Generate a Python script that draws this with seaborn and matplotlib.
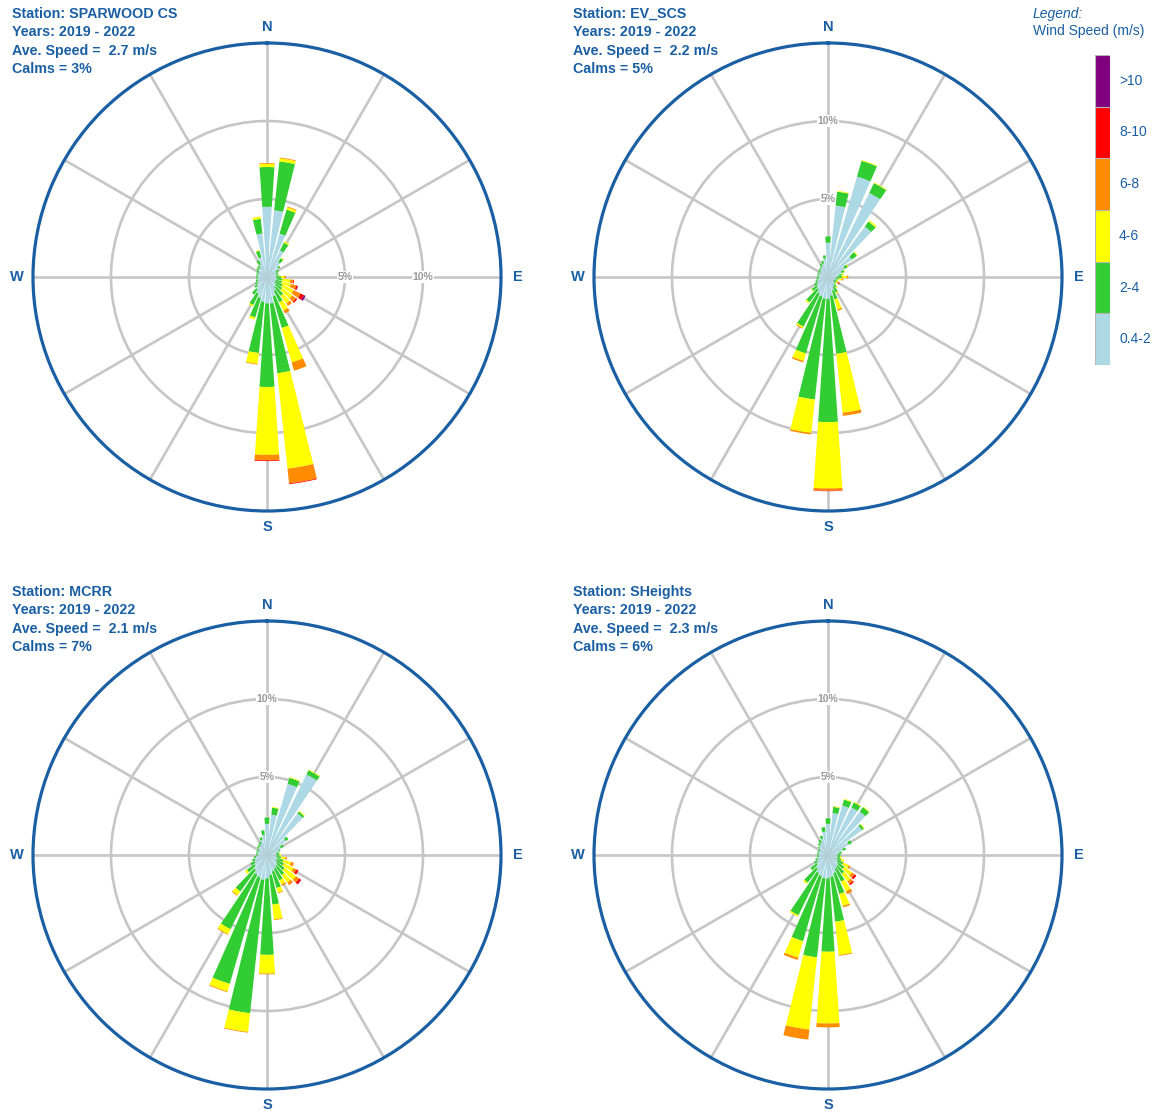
import numpy as np
import matplotlib.pyplot as plt
import seaborn as sns

W, H = 1156, 1112

directions = np.arange(0, 360, 10)
speed_classes = ["0.4-2", "2-4", "4-6", "6-8", "8-10", ">10"]
class_colors = ["#add8e6", "#32cd32", "#ffff00", "#ff8c00", "#ff0000", "#800080"]

stations = ["SPARWOOD CS", "EV_SCS", "MCRR", "SHeights"]
years = "2019 - 2022"
ave_speed = [2.7, 2.2, 2.1, 2.3]
calms = [3, 5, 7, 6]

# frequency (%) per 10 deg direction bin, 0..350, one list per speed class
spw_c1 = [4.5, 4.3, 2.9, 1.9, 1.2, 0.9, 0.7, 0.6, 0.6, 0.6, 0.6, 0.6, 0.6, 0.7, 0.8, 1.0, 1.3, 1.7,
          1.7, 1.6, 1.4, 1.2, 1.0, 0.8, 0.7, 0.6, 0.6, 0.6, 0.6, 0.6, 0.6, 0.7, 0.7, 0.9, 1.3, 2.8]
spw_c2 = [2.55, 3.15, 1.6, 0.55, 0.3, 0.15, 0.15, 0.15, 0.15, 0.3, 0.4, 0.4, 0.5, 0.5, 0.7, 0.8, 2.1, 4.5,
          5.35, 3.3, 1.3, 0.8, 0.4, 0.2, 0.15, 0.15, 0.1, 0.1, 0.1, 0.1, 0.15, 0.15, 0.2, 0.3, 0.45, 0.95]
spw_c3 = [0.2, 0.2, 0.15, 0.1, 0.05, 0, 0, 0, 0.05, 0.2, 0.5, 0.6, 0.8, 0.8, 0.6, 0.6, 2.3, 6.15,
          4.35, 0.7, 0.15, 0.1, 0, 0, 0, 0, 0, 0, 0, 0, 0, 0, 0, 0, 0.05, 0.15]
spw_c4 = [0.05, 0.05, 0.05, 0, 0, 0, 0, 0, 0, 0.1, 0.2, 0.35, 0.5, 0.3, 0.2, 0.2, 0.55, 0.95,
          0.35, 0.05, 0, 0, 0, 0, 0, 0, 0, 0, 0, 0, 0, 0, 0, 0, 0, 0]
spw_c5 = [0, 0, 0, 0, 0, 0, 0, 0, 0, 0, 0.05, 0.1, 0.25, 0.1, 0, 0, 0, 0.05,
          0.05, 0, 0, 0, 0, 0, 0, 0, 0, 0, 0, 0, 0, 0, 0, 0, 0, 0]
spw_c6 = [0, 0, 0, 0, 0, 0, 0, 0, 0, 0, 0, 0.03, 0.1, 0, 0, 0, 0, 0,
          0, 0, 0, 0, 0, 0, 0, 0, 0, 0, 0, 0, 0, 0, 0, 0, 0, 0]

ev_c1 = [2.2, 4.6, 6.7, 6.0, 4.0, 1.9, 1.2, 0.9, 0.7, 0.6, 0.5, 0.5, 0.4, 0.5, 0.6, 0.7, 0.9, 1.2,
         1.4, 1.4, 1.3, 1.2, 1.0, 0.9, 0.8, 0.7, 0.6, 0.6, 0.6, 0.6, 0.6, 0.6, 0.7, 0.8, 0.9, 1.2]
ev_c2 = [0.4, 0.9, 1.05, 0.7, 0.4, 0.4, 0.2, 0.2, 0.2, 0.3, 0.2, 0.1, 0.2, 0.1, 0.2, 0.4, 0.6, 3.75,
         7.9, 6.5, 3.8, 2.35, 1.0, 0.4, 0.2, 0.15, 0.15, 0.1, 0.1, 0.1, 0.1, 0.15, 0.1, 0.15, 0.2, 0.2]
ev_c3 = [0, 0.05, 0.05, 0.05, 0.1, 0.05, 0.05, 0.05, 0.1, 0.3, 0.2, 0.1, 0.1, 0.05, 0.1, 0.1, 0.65, 3.8,
         4.25, 2.15, 0.5, 0.1, 0.1, 0.05, 0, 0, 0, 0, 0, 0, 0, 0, 0, 0, 0, 0]
ev_c4 = [0, 0, 0, 0, 0, 0, 0, 0, 0, 0.1, 0.1, 0, 0.1, 0, 0, 0, 0.1, 0.2,
         0.15, 0.1, 0.1, 0.05, 0, 0, 0, 0, 0, 0, 0, 0, 0, 0, 0, 0, 0, 0]
ev_c5 = [0, 0, 0, 0, 0, 0, 0, 0, 0, 0, 0, 0, 0.05, 0, 0, 0, 0, 0,
         0.03, 0, 0, 0, 0, 0, 0, 0, 0, 0, 0, 0, 0, 0, 0, 0, 0, 0]
ev_c6 = [0] * 36

mc_c1 = [2.0, 2.6, 4.75, 5.75, 3.3, 1.5, 1.0, 0.8, 0.6, 0.6, 0.6, 0.7, 0.7, 0.8, 0.9, 1.0, 1.1, 1.3,
         1.5, 1.6, 1.5, 1.4, 1.2, 1.0, 0.9, 0.8, 0.7, 0.6, 0.6, 0.6, 0.6, 0.7, 0.7, 0.8, 1.0, 1.3]
mc_c2 = [0.4, 0.45, 0.4, 0.3, 0.15, 0.2, 0.2, 0.1, 0.2, 0.2, 0.3, 0.4, 0.5, 0.6, 0.7, 0.8, 1.1, 1.9,
         4.9, 8.6, 7.1, 3.9, 1.7, 0.6, 0.3, 0.2, 0.15, 0.1, 0.1, 0.1, 0.1, 0.1, 0.15, 0.15, 0.2, 0.3]
mc_c3 = [0, 0.05, 0.05, 0.05, 0.05, 0, 0, 0, 0, 0.1, 0.3, 0.5, 0.7, 0.9, 0.6, 0.3, 0.3, 0.95,
         1.2, 1.2, 0.5, 0.35, 0.3, 0.15, 0, 0, 0, 0, 0, 0, 0, 0, 0, 0, 0, 0]
mc_c4 = [0, 0, 0, 0, 0, 0, 0, 0, 0, 0, 0.1, 0.2, 0.2, 0.25, 0.2, 0.1, 0.05, 0.05,
         0.05, 0.05, 0.05, 0.05, 0.05, 0, 0, 0, 0, 0, 0, 0, 0, 0, 0, 0, 0, 0]
mc_c5 = [0, 0, 0, 0, 0, 0, 0, 0, 0, 0, 0, 0, 0.15, 0.15, 0, 0, 0, 0,
         0, 0, 0, 0, 0, 0, 0, 0, 0, 0, 0, 0, 0, 0, 0, 0, 0, 0]
mc_c6 = [0, 0, 0, 0, 0, 0, 0, 0, 0, 0, 0, 0, 0, 0.03, 0, 0, 0, 0,
         0, 0, 0, 0, 0, 0, 0, 0, 0, 0, 0, 0, 0, 0, 0, 0, 0, 0]

sh_c1 = [2.0, 2.7, 3.3, 3.4, 3.45, 2.7, 1.5, 1.0, 0.7, 0.6, 0.6, 0.6, 0.7, 0.8, 0.9, 1.0, 1.2, 1.4,
         1.5, 1.5, 1.4, 1.3, 1.1, 0.9, 0.8, 0.7, 0.6, 0.6, 0.6, 0.6, 0.6, 0.7, 0.8, 0.9, 1.1, 1.5]
sh_c2 = [0.35, 0.4, 0.4, 0.35, 0.35, 0.15, 0.2, 0.2, 0.2, 0.2, 0.2, 0.3, 0.4, 0.5, 0.6, 0.9, 1.4, 2.9,
         4.7, 5.1, 4.35, 3.0, 1.1, 0.5, 0.2, 0.15, 0.1, 0.1, 0.1, 0.1, 0.1, 0.1, 0.15, 0.2, 0.2, 0.3]
sh_c3 = [0, 0.05, 0.05, 0.05, 0.05, 0.05, 0, 0, 0, 0, 0.1, 0.2, 0.4, 0.6, 0.6, 0.7, 0.8, 2.15,
         4.6, 4.65, 1.1, 0.1, 0.1, 0, 0, 0, 0, 0, 0, 0, 0, 0, 0, 0, 0, 0]
sh_c4 = [0, 0, 0, 0, 0, 0, 0, 0, 0, 0, 0, 0, 0.1, 0.2, 0.2, 0.2, 0.1, 0.05,
         0.25, 0.65, 0.15, 0, 0, 0, 0, 0, 0, 0, 0, 0, 0, 0, 0, 0, 0, 0]
sh_c5 = [0, 0, 0, 0, 0, 0, 0, 0, 0, 0, 0, 0, 0, 0.15, 0.1, 0, 0, 0,
         0, 0, 0, 0, 0, 0, 0, 0, 0, 0, 0, 0, 0, 0, 0, 0, 0, 0]
sh_c6 = [0] * 36

station_freqs = [
    [spw_c1, spw_c2, spw_c3, spw_c4, spw_c5, spw_c6],
    [ev_c1, ev_c2, ev_c3, ev_c4, ev_c5, ev_c6],
    [mc_c1, mc_c2, mc_c3, mc_c4, mc_c5, mc_c6],
    [sh_c1, sh_c2, sh_c3, sh_c4, sh_c5, sh_c6],
]

BLUE = "#1a5fa3"
GRID = "#c6c6c6"

sns.set_theme(style="white")
plt.rcParams['font.family'] = ['Liberation Sans', 'DejaVu Sans']

fig = plt.figure(figsize=(W / 100, H / 100), dpi=100)

centers = [(267, 277), (828, 277), (267, 855), (828, 855)]
text_pos = [(12, 7), (573, 7), (12, 585), (573, 585)]
ring_label_angle = [90, 0, 0, 0]
R = 234  # outer circle radius in px (= 15 %)


def draw_rose(ax, freqs, label_angle):
    theta = np.deg2rad(directions)
    bottom = np.zeros(len(directions))
    for vals, col in zip(freqs, class_colors):
        vals = np.asarray(vals, dtype=float)
        ax.bar(theta, vals, width=np.deg2rad(7.8), bottom=bottom, color=col,
               edgecolor='none', linewidth=0, zorder=3)
        bottom += vals

    ax.set_theta_zero_location('N')
    ax.set_theta_direction(-1)
    ax.set_ylim(0, 15)
    ax.set_yticks([5, 10])
    ax.set_yticklabels([])
    ax.set_xticks(np.deg2rad(np.arange(0, 360, 30)))
    ax.set_xticklabels([])
    ax.grid(True, color=GRID, linewidth=1.9)
    ax.set_axisbelow(True)
    ax.spines['polar'].set_color(BLUE)
    ax.spines['polar'].set_linewidth(2.3)
    ax.set_facecolor('white')

    for r in [5, 10]:
        ax.text(np.deg2rad(label_angle), r, f"{r}%", ha='center', va='center',
                fontsize=7.5, color='#9a9a9a', fontweight='bold', zorder=2,
                bbox=dict(facecolor='white', edgecolor='none', pad=0.6))

    for ang, lab in zip([0, 90, 180, 270], ["N", "E", "S", "W"]):
        ax.text(np.deg2rad(ang), 16.05, lab, ha='center', va='center',
                fontsize=10.5, color=BLUE, fontweight='bold')


for i, name in enumerate(stations):
    cx, cy = centers[i]
    rect = [(cx - R) / W, (H - cy - R) / H, 2 * R / W, 2 * R / H]
    ax = fig.add_axes(rect, projection='polar')
    draw_rose(ax, station_freqs[i], ring_label_angle[i])

    tx, ty = text_pos[i]
    info = (f"Station: {name}\nYears: {years}\n"
            f"Ave. Speed =  {ave_speed[i]} m/s\nCalms = {calms[i]}%")
    fig.text(tx / W, 1 - ty / H, info, ha='left', va='top', fontsize=10.3,
             fontweight='bold', color=BLUE, linespacing=1.4)

# legend colour bar
lx, ltop, lw, lh = 1095, 55, 15, 310
lax = fig.add_axes([lx / W, (H - ltop - lh) / H, lw / W, lh / H])
lax.bar(np.zeros(6), np.ones(6), bottom=np.arange(6), width=1,
        color=class_colors, edgecolor='#b5b5b5', linewidth=0.8)
lax.set_xlim(-0.5, 0.5)
lax.set_ylim(0, 6)
lax.axis('off')
for k, lab in enumerate(speed_classes):
    fig.text((lx + lw + 9) / W, (H - ltop - lh + (k + 0.5) * lh / 6) / H, lab,
             ha='left', va='center', fontsize=10, color=BLUE)

fig.text(1033 / W, 1 - 7 / H, "Legend:", ha='left', va='top', fontsize=10,
         style='italic', color=BLUE)
fig.text(1033 / W, 1 - 24 / H, "Wind Speed (m/s)", ha='left', va='top',
         fontsize=10, color=BLUE)

fig.savefig("out.png", dpi=100, facecolor='white')
